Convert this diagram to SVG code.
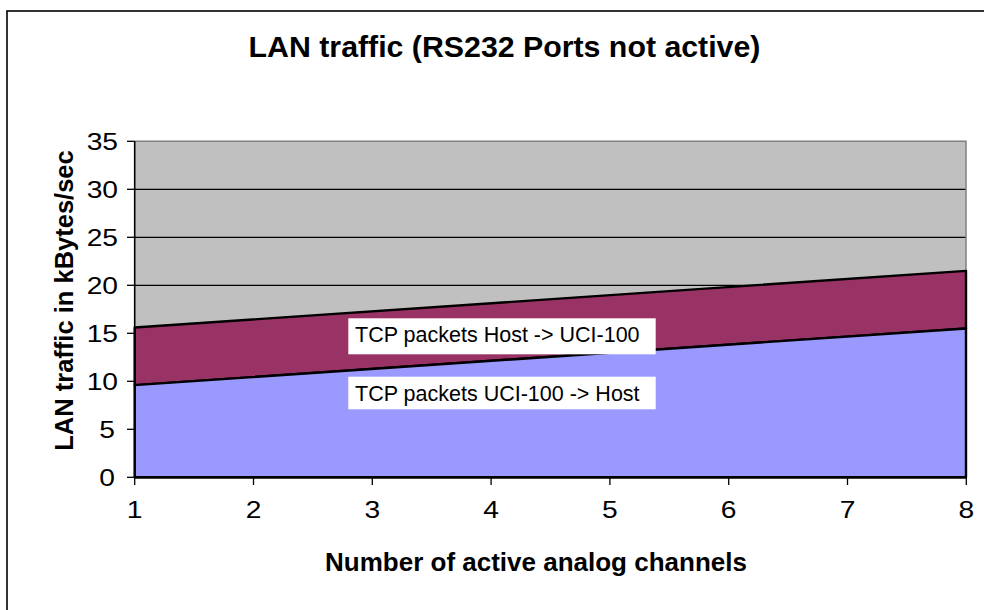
<svg xmlns="http://www.w3.org/2000/svg" width="984" height="610" viewBox="0 0 984 610">
<style>
text{font-family:"Liberation Sans",Arial,sans-serif;fill:#000}
.tick{font-size:23.5px}
.ylab{text-anchor:end}
.xlab{text-anchor:middle}
.grid{stroke:#000;stroke-width:1.3}
.tk{stroke:#000;stroke-width:1.3}
.ser{stroke:#000;stroke-width:2.4;stroke-linejoin:round}
.leg{font-size:21.5px}
</style>
<rect width="984" height="610" fill="#fff"/>
<rect id="frame" x="7" y="11" width="1000" height="620" fill="none" stroke="#000" stroke-width="1.6"/>
<g id="title"><text x="504.5" y="57" font-size="30.3" font-weight="bold" text-anchor="middle">LAN traffic (RS232 Ports not active)</text></g>
<g id="plot">
<rect x="134.7" y="141.3" width="831.3" height="336" fill="#C0C0C0"/>
<line class="grid" x1="134.7" y1="189.3" x2="966" y2="189.3"/>
<line class="grid" x1="134.7" y1="237.3" x2="966" y2="237.3"/>
<line class="grid" x1="134.7" y1="285.3" x2="966" y2="285.3"/>
<polyline points="134.7,141.3 966,141.3 966,477.3" fill="none" stroke="#808080" stroke-width="1.5"/>
</g>
<g id="series-host-to-uci">
<polygon class="ser" points="134.7,327.5 966,270.9 966,328.5 134.7,385.1" fill="#993366"/>
</g>
<g id="series-uci-to-host">
<polygon class="ser" points="134.7,385.1 966,328.5 966,477.3 134.7,477.3" fill="#9999FF"/>
</g>
<g id="axes">
<line x1="134.7" y1="141.3" x2="134.7" y2="478" stroke="#000" stroke-width="1.6"/>
<line x1="134.7" y1="477.3" x2="967" y2="477.3" stroke="#000" stroke-width="2.4"/>
<g class="tk">
<line x1="127" y1="141.3" x2="134.7" y2="141.3"/>
<line x1="127" y1="189.3" x2="134.7" y2="189.3"/>
<line x1="127" y1="237.3" x2="134.7" y2="237.3"/>
<line x1="127" y1="285.3" x2="134.7" y2="285.3"/>
<line x1="127" y1="333.3" x2="134.7" y2="333.3"/>
<line x1="127" y1="381.3" x2="134.7" y2="381.3"/>
<line x1="127" y1="429.3" x2="134.7" y2="429.3"/>
<line x1="127" y1="477.3" x2="134.7" y2="477.3"/>
<line x1="134.7" y1="477.3" x2="134.7" y2="485"/>
<line x1="253.5" y1="477.3" x2="253.5" y2="485"/>
<line x1="372.3" y1="477.3" x2="372.3" y2="485"/>
<line x1="491.1" y1="477.3" x2="491.1" y2="485"/>
<line x1="609.9" y1="477.3" x2="609.9" y2="485"/>
<line x1="728.7" y1="477.3" x2="728.7" y2="485"/>
<line x1="847.5" y1="477.3" x2="847.5" y2="485"/>
<line x1="966.3" y1="477.3" x2="966.3" y2="485"/>
</g>
<g class="tick ylab">
<text transform="translate(118,149.8) scale(1.2,1)">35</text>
<text transform="translate(118,197.8) scale(1.2,1)">30</text>
<text transform="translate(118,245.8) scale(1.2,1)">25</text>
<text transform="translate(118,293.8) scale(1.2,1)">20</text>
<text transform="translate(118,341.8) scale(1.2,1)">15</text>
<text transform="translate(118,389.8) scale(1.2,1)">10</text>
<text transform="translate(115,437.8) scale(1.2,1)">5</text>
<text transform="translate(115,485.8) scale(1.2,1)">0</text>
</g>
<g class="tick xlab">
<text transform="translate(134.7,518) scale(1.2,1)">1</text>
<text transform="translate(253.5,518) scale(1.2,1)">2</text>
<text transform="translate(372.3,518) scale(1.2,1)">3</text>
<text transform="translate(491.1,518) scale(1.2,1)">4</text>
<text transform="translate(609.9,518) scale(1.2,1)">5</text>
<text transform="translate(728.7,518) scale(1.2,1)">6</text>
<text transform="translate(847.5,518) scale(1.2,1)">7</text>
<text transform="translate(966.3,518) scale(1.2,1)">8</text>
</g>
</g>
<g id="label-host-to-uci">
<rect x="348.3" y="318.3" width="307.4" height="36" fill="#fff"/>
<text class="leg" x="355" y="342">TCP packets Host -&gt; UCI-100</text>
</g>
<g id="label-uci-to-host">
<rect x="348.3" y="376.7" width="307.4" height="32.6" fill="#fff"/>
<text class="leg" x="355" y="400.7">TCP packets UCI-100 -&gt; Host</text>
</g>
<g id="x-axis-title"><text x="536" y="571" font-size="26" font-weight="bold" text-anchor="middle">Number of active analog channels</text></g>
<g id="y-axis-title"><text transform="translate(73,300.5) rotate(-90)" font-size="25.5" font-weight="bold" text-anchor="middle">LAN traffic in kBytes/sec</text></g>
</svg>
